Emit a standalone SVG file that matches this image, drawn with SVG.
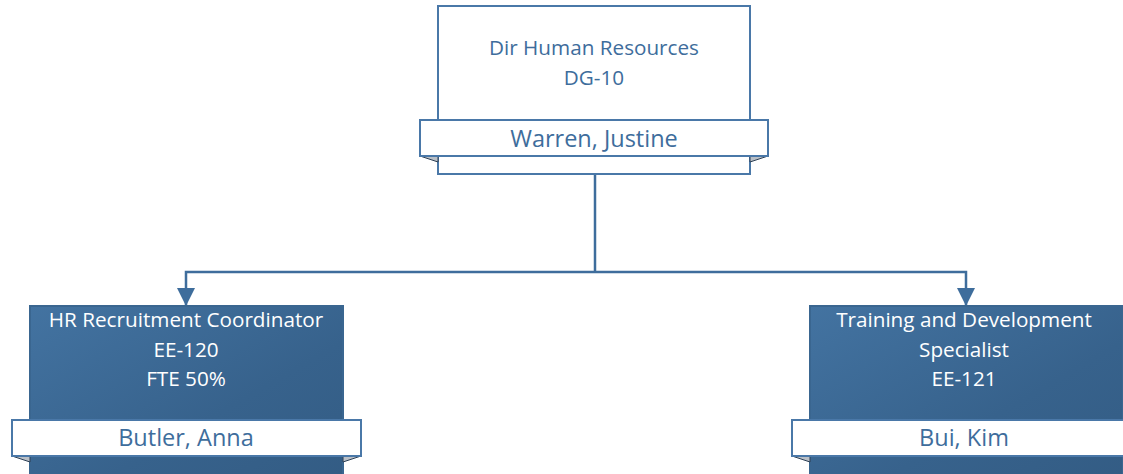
<svg xmlns="http://www.w3.org/2000/svg" width="1123" height="474" viewBox="0 0 1123 474">
<defs>
<linearGradient id="blueFill" x1="0" y1="0" x2="1" y2="1">
<stop offset="0" stop-color="#4373a1"/>
<stop offset="0.6" stop-color="#37628c"/>
<stop offset="1" stop-color="#335c84"/>
</linearGradient>
<marker id="arrow" markerWidth="18" markerHeight="18" viewBox="0 0 18 18" refX="17" refY="9" orient="auto" markerUnits="userSpaceOnUse">
<path d="M0,0 L18,9 L0,18 Z" fill="#3e6d9c"/>
</marker>
</defs>
<style>
.box-white{fill:#ffffff;stroke:#4a78a8;stroke-width:2}
.box-blue{fill:url(#blueFill);stroke:#3a6690;stroke-width:2}
.band{fill:#ffffff;stroke:#4a78a8;stroke-width:2}
.fold{fill:#b9bfc6;stroke:#2c3f55;stroke-width:1}
.conn{fill:none;stroke:#3e6d9c;stroke-width:2.5}
.t{font-family:"Open Sans","Liberation Sans",sans-serif;text-anchor:middle}
.tb{fill:#3e6d9c;font-size:20.7px}
.tw{fill:#ffffff;font-size:20.7px}
.name{fill:#3e6d9c;font-size:23.5px}
</style>
<g id="connectors">
<polyline class="conn" points="595,174 595,272"/>
<polyline class="conn" points="595,272 186,272 186,305" marker-end="url(#arrow)"/>
<polyline class="conn" points="595,272 966,272 966,305" marker-end="url(#arrow)"/>
</g>
<g id="node-dir">
<rect class="box-white" x="438" y="6" width="312" height="168"/>
<polygon class="fold" points="420,156 438,156 438,162"/>
<polygon class="fold" points="768,156 750,156 750,162"/>
<rect class="band" x="420" y="120" width="348" height="36"/>
<text class="t tb" x="594" y="55">Dir Human Resources</text>
<text class="t tb" x="594" y="85">DG-10</text>
<text class="t name" x="594" y="147">Warren, Justine</text>
</g>
<g id="node-hr">
<rect class="box-blue" x="30" y="306" width="313" height="180"/>
<polygon class="fold" points="12,456 30,456 30,462"/>
<polygon class="fold" points="361,456 343,456 343,462"/>
<rect class="band" x="12" y="420" width="349" height="36"/>
<text class="t tw" x="186" y="327">HR Recruitment Coordinator</text>
<text class="t tw" x="186" y="357">EE-120</text>
<text class="t tw" x="186" y="386">FTE 50%</text>
<text class="t name" x="186" y="446">Butler, Anna</text>
</g>
<g id="node-td">
<rect class="box-blue" x="810" y="306" width="313" height="180"/>
<polygon class="fold" points="792,456 810,456 810,462"/>
<rect class="band" x="792" y="420" width="349" height="36"/>
<text class="t tw" x="964" y="327">Training and Development</text>
<text class="t tw" x="964" y="357">Specialist</text>
<text class="t tw" x="964" y="386">EE-121</text>
<text class="t name" x="964" y="446">Bui, Kim</text>
</g>
</svg>
